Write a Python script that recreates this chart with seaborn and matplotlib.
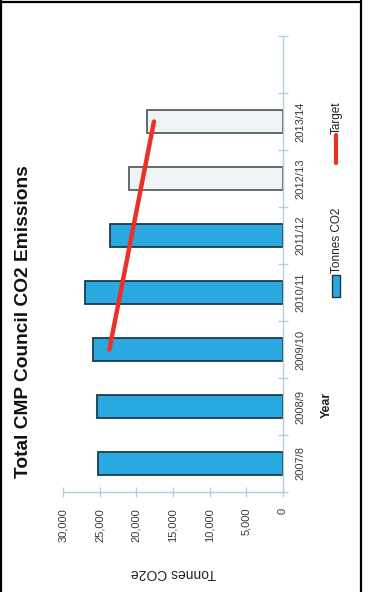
import matplotlib
matplotlib.use("Agg")
import matplotlib.pyplot as plt
from matplotlib.lines import Line2D
from matplotlib.patches import Rectangle
from matplotlib.ticker import FuncFormatter
import pandas as pd
import seaborn as sns

# ---- data -------------------------------------------------------------
years = ["2007/8", "2008/9", "2009/10", "2010/11", "2011/12", "2012/13", "2013/14"]
tonnes_co2 = [25200, 25350, 26000, 27000, 23600, 21000, 18500]
projected = [False, False, False, False, False, True, True]
target_years = ["2009/10", "2013/14"]
target_tonnes = [23700, 17600]
value_ticks = [0, 5000, 10000, 15000, 20000, 25000, 30000]

# ---- styling ----------------------------------------------------------
ACTUAL = "#29a9e0"
ACTUAL_EDGE = "#1c3a4a"
PROJECTED = "#eef4f6"
PROJECTED_EDGE = "#56605f"
TARGET = "#ec2f27"
AXIS = "#b6cedb"
TEXT = "#3a3a3a"

sns.set_theme(style="white")
plt.rcParams["font.family"] = ["Liberation Sans", "DejaVu Sans"]

W, H = 367, 592
fig = plt.figure(figsize=(W / 100, H / 100), dpi=100)


def fx(x):
    return x / W


def fy(y):
    return 1 - y / H


# plot area (chart is laid out turned on its side)
ax_l, ax_r, ax_t, ax_b = 63.3, 282.7, 36.0, 492.0
ax = fig.add_axes([fx(ax_l), fy(ax_b), (ax_r - ax_l) / W, (ax_b - ax_t) / H])

df = pd.DataFrame({"year": years, "tonnes": tonnes_co2})
palette = {y: (PROJECTED if p else ACTUAL) for y, p in zip(years, projected)}
sns.barplot(data=df, x="tonnes", y="year", hue="year", order=years,
            palette=palette, orient="h", width=0.4, saturation=1,
            legend=False, ax=ax)
for bar, p in zip(ax.patches, projected):
    bar.set_edgecolor(PROJECTED_EDGE if p else ACTUAL_EDGE)
    bar.set_linewidth(1.3)

# target trajectory
target_pos = [years.index(y) for y in target_years]
sns.lineplot(x=target_tonnes, y=target_pos, orient="y", color=TARGET,
             linewidth=3.2, ax=ax, zorder=5)

ax.set_ylim(-0.5, len(years) + 0.5)
ax.set_xlim(30000, 0)

# spines
for side in ("left", "top"):
    ax.spines[side].set_visible(False)
for side in ("right", "bottom"):
    ax.spines[side].set_visible(True)
    ax.spines[side].set_color(AXIS)
    ax.spines[side].set_linewidth(1.0)

# category axis (on the right)
ax.yaxis.tick_right()
ax.set_yticks(range(len(years)))
ax.set_yticklabels(years)
ax.set_yticks([i - 0.5 for i in range(len(years) + 2)], minor=True)
ax.tick_params(axis="y", which="major", length=0, pad=9, labelsize=8,
               labelcolor=TEXT, labelrotation=90)
ax.tick_params(axis="y", which="minor", length=7, width=1, color=AXIS,
               direction="inout", right=True, left=False)
for lab in ax.get_yticklabels():
    lab.set_va("center")
    lab.set_ha("left")

# value axis (at the bottom)
ax.set_xticks(value_ticks)
ax.xaxis.set_major_formatter(FuncFormatter(lambda v, _: f"{int(v):,}"))
ax.tick_params(axis="x", which="major", length=7, width=1, color=AXIS,
               direction="inout", bottom=True, pad=8, labelsize=8,
               labelcolor=TEXT, labelrotation=90)
for lab in ax.get_xticklabels():
    lab.set_va("top")
    lab.set_ha("center")

ax.set_xlabel("Tonnes CO2e", rotation=180, fontsize=10, color="#222222")
ax.xaxis.label.set_va("center")
ax.xaxis.set_label_coords(0.5, (ax_b - 573) / (ax_b - ax_t))

ax.set_ylabel("Year", rotation=90, fontsize=9, fontweight="bold",
              color="#222222")
ax.yaxis.set_label_position("right")
ax.yaxis.label.set_va("center")
ax.yaxis.label.set_ha("center")
ax.yaxis.set_label_coords((327 - ax_l) / (ax_r - ax_l), (ax_b - 405) / (ax_b - ax_t))

fig.suptitle("Total CMP Council CO2 Emissions", x=fx(24), y=fy(322),
             rotation=90, ha="center", va="center", fontsize=13.8,
             fontweight="bold", color="#111111")

# legend, drawn turned on its side
fig.add_artist(Rectangle((fx(332), fy(297)), 8 / W, 22 / H,
                         facecolor=ACTUAL, edgecolor=ACTUAL_EDGE,
                         linewidth=1.0, transform=fig.transFigure))
fig.text(fx(336.5), fy(273), "Tonnes CO2", rotation=90, ha="center",
         va="bottom", fontsize=8.5, color="#222222")
fig.add_artist(Line2D([fx(336), fx(336)], [fy(163), fy(135)], color=TARGET,
                      linewidth=3.0, transform=fig.transFigure))
fig.text(fx(336.5), fy(134), "Target", rotation=90, ha="center",
         va="bottom", fontsize=8.5, color="#222222")

# outer frame
for xs, ys in (([1, 1], [0, H]), ([0, 361], [2, 2]), ([361, 361], [0, H])):
    fig.add_artist(Line2D([fx(v) for v in xs], [fy(v) for v in ys],
                          color="black", linewidth=1.6,
                          transform=fig.transFigure))

fig.savefig("out.png", dpi=100)
